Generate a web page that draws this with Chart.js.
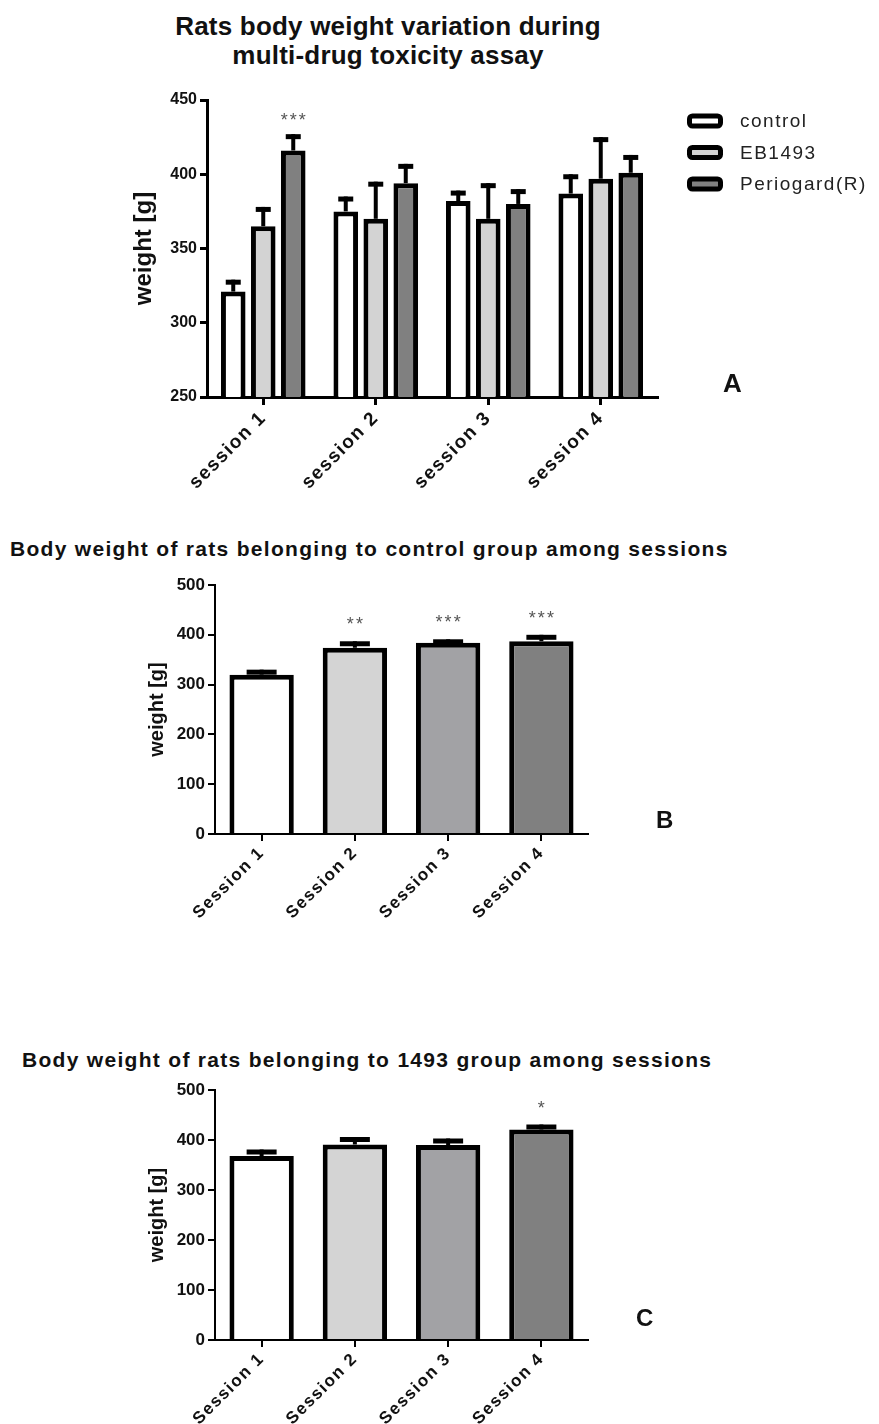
<!DOCTYPE html>
<html>
<head>
<meta charset="utf-8">
<script src="https://cdn.jsdelivr.net/npm/chart.js@4.4.1/dist/chart.umd.min.js"></script>
<style>
body { margin: 0; background: #fff; width: 879px; height: 1424px; position: relative; overflow: hidden; font-family: 'Liberation Sans', Arial, sans-serif; color: #111; }
canvas { position: absolute; left: 0; }
.t { position: absolute; font-weight: bold; white-space: nowrap; line-height: 1; }
</style>
</head>
<body>
<div class="t" style="left:0;width:776px;top:12px;text-align:center;font-size:26px;line-height:29px;letter-spacing:0.2px">Rats body weight variation during<br>multi-drug toxicity assay</div>
<canvas id="chartA" width="879" height="530" style="top:0"></canvas>
<div class="t" style="left:723px;top:370px;font-size:26px">A</div>

<div class="t" style="left:10px;top:538px;font-size:21px;letter-spacing:1.3px">Body weight of rats belonging to control group among sessions</div>
<canvas id="chartB" width="879" height="370" style="top:570px"></canvas>
<div class="t" style="left:656px;top:808px;font-size:24px">B</div>

<div class="t" style="left:22px;top:1049px;font-size:21px;letter-spacing:1.3px">Body weight of rats belonging to 1493 group among sessions</div>
<canvas id="chartC" width="879" height="349" style="top:1075px"></canvas>
<div class="t" style="left:636px;top:1306px;font-size:24px">C</div>

<script>
// panel A
var sessionsA = ['session 1', 'session 2', 'session 3', 'session 4'];
var groupNames = ['control', 'EB1493', 'Periogard(R)'];
var controlA = [321, 375, 382, 387];
var controlErrA = [8, 10, 7, 13];
var eb1493A = [365, 370, 370, 397];
var eb1493ErrA = [13, 25, 24, 28];
var periogardA = [416, 394, 380, 401];
var periogardErrA = [11, 13, 10, 12];
var periogardStarsA = ['***', '', '', ''];
var yTicksA = [250, 300, 350, 400, 450];
var groupColors = ['#ffffff', '#d3d3d3', '#808080'];

// panels B and C
var sessionsBC = ['Session 1', 'Session 2', 'Session 3', 'Session 4'];
var controlB = [320, 374, 384, 387];
var controlErrB = [10, 13, 7, 13];
var starsB = ['', '**', '***', '***'];
var eb1493C = [368, 391, 390, 421];
var eb1493ErrC = [13, 15, 13, 10];
var starsC = ['', '', '', '*'];
var yTicksBC = [0, 100, 200, 300, 400, 500];
var sessionColors = ['#ffffff', '#d4d4d4', '#a2a2a5', '#808080'];

var FONT = "'Liberation Sans', Arial, sans-serif";
Chart.defaults.font.family = FONT;
Chart.defaults.color = '#111';

// mean + SEM bars and significance stars
var errorBars = {
	id: 'errorBars',
	afterDatasetsDraw: function (chart, args, opts) {
		var ctx = chart.ctx, y = chart.scales.y;
		chart.data.datasets.forEach(function (ds, i) {
			chart.getDatasetMeta(i).data.forEach(function (bar, j) {
				var top = y.getPixelForValue(ds.data[j] + ds.errors[j]);
				ctx.save();
				ctx.strokeStyle = '#000';
				ctx.lineWidth = opts.lineWidth;
				ctx.beginPath();
				ctx.moveTo(bar.x, bar.y);
				ctx.lineTo(bar.x, top);
				ctx.stroke();
				ctx.lineWidth = opts.capThickness;
				ctx.beginPath();
				ctx.moveTo(bar.x - opts.capWidth / 2, top + opts.capThickness / 2);
				ctx.lineTo(bar.x + opts.capWidth / 2, top + opts.capThickness / 2);
				ctx.stroke();
				if (ds.stars && ds.stars[j]) {
					ctx.font = opts.starSize + 'px ' + FONT;
					ctx.fillStyle = '#555';
					ctx.textAlign = 'center';
					ctx.letterSpacing = '2px';
					ctx.fillText(ds.stars[j], bar.x + 1, top - opts.starGap);
				}
				ctx.restore();
			});
		});
	}
};

// legend drawn to the right of panel A
var sideLegend = {
	id: 'sideLegend',
	afterDraw: function (chart, args, opts) {
		if (!opts.show) return;
		var ctx = chart.ctx;
		chart.data.datasets.forEach(function (ds, i) {
			var cy = opts.top + i * opts.rowGap;
			ctx.save();
			ctx.beginPath();
			ctx.roundRect(opts.left + 2.5, cy - 5, 31, 10, 3);
			ctx.fillStyle = ds.backgroundColor;
			ctx.fill();
			ctx.lineWidth = 5;
			ctx.strokeStyle = '#000';
			ctx.stroke();
			ctx.font = '19px ' + FONT;
			ctx.letterSpacing = '1.5px';
			ctx.fillStyle = '#222';
			ctx.textBaseline = 'middle';
			ctx.fillText(ds.label, opts.left + 53, cy + 1);
			ctx.restore();
		});
	}
};

// wider spacing of the x tick labels
var spacedLabels = {
	id: 'spacedLabels',
	afterLayout: function (chart, args, opts) {
		var s = chart.scales.x;
		if (s._spaced) return;
		var draw = s.drawLabels;
		s.drawLabels = function (area) {
			chart.ctx.save();
			chart.ctx.letterSpacing = opts.spacing;
			draw.call(this, area);
			chart.ctx.restore();
		};
		s._spaced = true;
	}
};

function axisStyle(w, len) {
	return {
		grid: { offset: false, drawOnChartArea: false, color: '#000', lineWidth: w, tickLength: len },
		border: { color: '#000', width: w }
	};
}

var xA = axisStyle(3, 8);
xA.ticks = { font: { size: 19, weight: 'bold' }, color: '#111', minRotation: 45, maxRotation: 45, padding: 2 };
xA.afterFit = function (s) { s.height = 133; };
var yA = axisStyle(3, 7);
yA.min = 250;
yA.max = 450;
yA.afterBuildTicks = function (s) { s.ticks = yTicksA.map(function (v) { return { value: v }; }); };
yA.ticks = { font: { size: 16, weight: 'bold' }, color: '#111', padding: 3 };
yA.title = { display: true, text: 'weight [g]', font: { size: 24, weight: 'bold' }, color: '#111' };
yA.afterFit = function (s) { s.width = 81; };

new Chart(document.getElementById('chartA'), {
	type: 'bar',
	data: {
		labels: sessionsA,
		datasets: [
			{ label: groupNames[0], data: controlA, errors: controlErrA, backgroundColor: groupColors[0] },
			{ label: groupNames[1], data: eb1493A, errors: eb1493ErrA, backgroundColor: groupColors[1] },
			{ label: groupNames[2], data: periogardA, errors: periogardErrA, stars: periogardStarsA, backgroundColor: groupColors[2] }
		]
	},
	options: {
		responsive: false,
		animation: false,
		layout: { padding: { left: 126, right: 222, top: 100, bottom: 0 } },
		datasets: { bar: { borderColor: '#000', borderWidth: 5, categoryPercentage: 0.8, barPercentage: 0.82 } },
		plugins: {
			legend: { display: false },
			tooltip: { enabled: false },
			errorBars: { lineWidth: 4, capWidth: 15, capThickness: 5, starGap: 8, starSize: 18 },
			sideLegend: { show: true, left: 687, top: 121, rowGap: 31.5 },
			spacedLabels: { spacing: '1.5px' }
		},
		scales: { x: xA, y: yA }
	},
	plugins: [errorBars, sideLegend, spacedLabels]
});

function sessionChart(id, values, errors, stars, xHeight) {
	var x = axisStyle(2, 7);
	x.ticks = { font: { size: 17, weight: 'bold' }, color: '#111', minRotation: 45, maxRotation: 45, padding: 2 };
	x.afterFit = function (s) { s.height = xHeight; };
	var y = axisStyle(2, 7);
	y.min = 0;
	y.max = 500;
	y.afterBuildTicks = function (s) { s.ticks = yTicksBC.map(function (v) { return { value: v }; }); };
	y.ticks = { font: { size: 17, weight: 'bold' }, color: '#111', padding: 3 };
	y.title = { display: true, text: 'weight [g]', font: { size: 20, weight: 'bold' }, color: '#111' };
	y.afterFit = function (s) { s.width = 74; };
	return new Chart(document.getElementById(id), {
		type: 'bar',
		data: {
			labels: sessionsBC,
			datasets: [{ data: values, errors: errors, stars: stars, backgroundColor: sessionColors }]
		},
		options: {
			responsive: false,
			animation: false,
			layout: { padding: { left: 141, right: 291, top: 15, bottom: 0 } },
			datasets: { bar: { borderColor: '#000', borderWidth: 5, categoryPercentage: 1, barPercentage: 0.69 } },
			plugins: {
				legend: { display: false },
				tooltip: { enabled: false },
				errorBars: { lineWidth: 4, capWidth: 30, capThickness: 5, starGap: 11, starSize: 18 },
				sideLegend: { show: false },
				spacedLabels: { spacing: '1.5px' }
			},
			scales: { x: x, y: y }
		},
		plugins: [errorBars, sideLegend, spacedLabels]
	});
}

sessionChart('chartB', controlB, controlErrB, starsB, 106);
sessionChart('chartC', eb1493C, eb1493ErrC, starsC, 84);
</script>
</body>
</html>
